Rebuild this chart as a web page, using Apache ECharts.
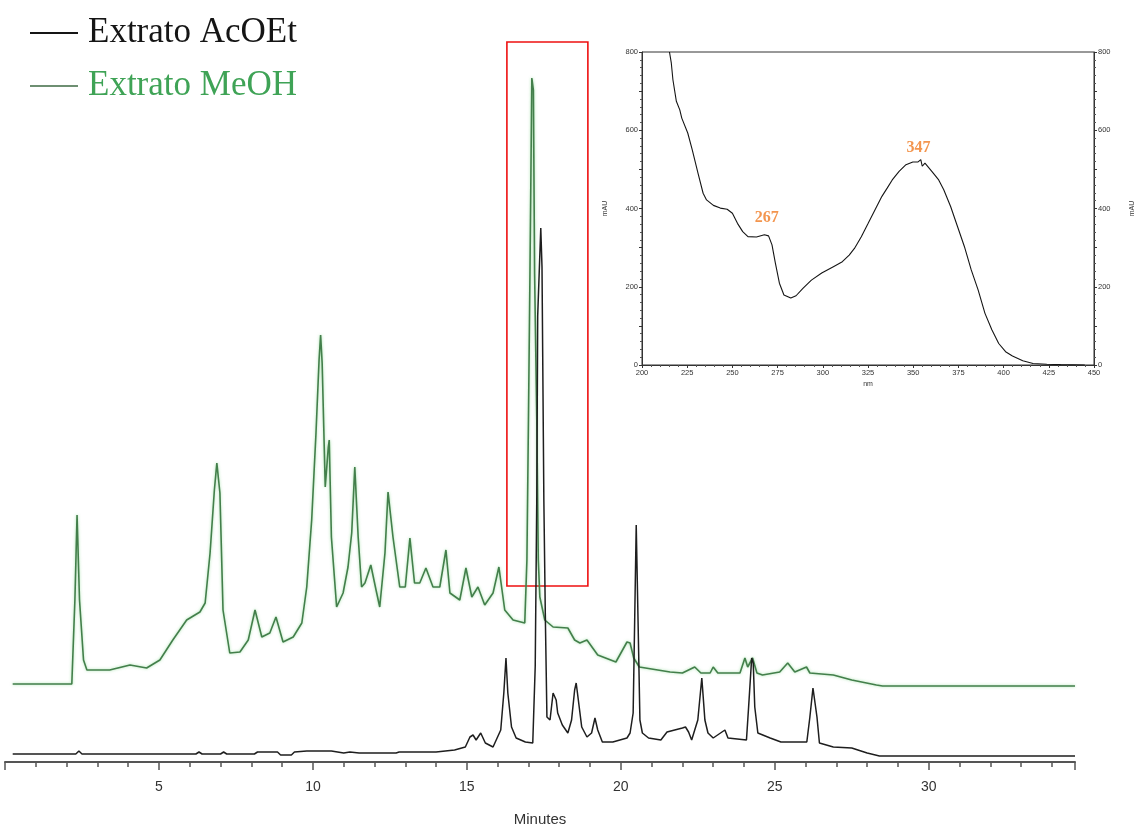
<!DOCTYPE html>
<html>
<head>
<meta charset="utf-8">
<script src="https://cdn.jsdelivr.net/npm/echarts@6/dist/echarts.min.js"></script>
<style>
html,body{margin:0;padding:0;background:#fff;}
#chart{width:1137px;height:829px;}
</style>
</head>
<body>
<div id="chart"></div>
<script>
// ---- Chromatogram: Extrato MeOH (retention time in minutes, detector signal, arbitrary units with offset) ----
const meohMinutes = [0.25,2.17,2.27,2.34,2.42,2.55,2.66,3.4,4.06,4.6,5.03,5.45,5.9,6.33,6.5,6.66,6.8,6.88,6.98,7.08,7.3,7.63,7.9,8.12,8.34,8.6,8.8,9.03,9.36,9.64,9.8,9.96,10.1,10.2,10.25,10.3,10.4,10.5,10.53,10.6,10.77,10.98,11.14,11.26,11.36,11.47,11.58,11.69,11.88,12.05,12.17,12.34,12.44,12.6,12.82,13.0,13.15,13.3,13.47,13.67,13.9,14.12,14.32,14.45,14.77,14.97,15.16,15.36,15.58,15.85,16.04,16.23,16.5,16.88,16.95,17.0,17.05,17.11,17.16,17.2,17.27,17.32,17.37,17.53,17.8,18.28,18.5,18.67,18.9,19.25,19.84,20.2,20.3,20.42,20.6,21.6,22.0,22.4,22.6,22.9,23.0,23.15,23.87,24.03,24.12,24.28,24.42,24.6,25.16,25.42,25.65,26.03,26.14,26.9,27.5,28.3,28.5,34.75];
const meohSignal  = [78,78,162,247,162,102,92,92,97,94,102,122,142,150,159,209,272,299,269,152,109,110,122,152,125,129,145,120,125,139,175,242,329,402,427,399,275,315,322,225,155,169,195,229,295,225,175,179,197,172,155,209,270,225,175,175,224,179,179,194,175,175,212,169,162,194,165,175,157,169,195,152,142,139,202,342,492,684,672,488,342,202,165,142,135,134,122,119,122,107,100,120,119,104,95,90,89,95,89,89,95,89,89,104,95,104,89,87,90,99,90,95,89,87,82,77,76,76];

// ---- Chromatogram: Extrato AcOEt ----
const acoetMinutes = [0.25,2.3,2.4,2.5,6.2,6.3,6.4,7.0,7.1,7.2,8.1,8.2,8.85,8.95,9.3,9.4,9.8,10.6,11.0,11.2,11.5,12.7,12.8,14.0,14.6,14.95,15.1,15.2,15.3,15.45,15.6,15.85,16.1,16.2,16.27,16.33,16.45,16.6,16.9,17.14,17.22,17.27,17.3,17.4,17.44,17.5,17.55,17.6,17.7,17.8,17.9,17.95,18.1,18.28,18.4,18.5,18.55,18.62,18.73,18.9,19.05,19.16,19.25,19.4,19.74,20.2,20.3,20.4,20.45,20.5,20.56,20.62,20.7,20.9,21.3,21.5,22.0,22.1,22.2,22.3,22.5,22.63,22.73,22.83,23.0,23.38,23.48,24.08,24.15,24.25,24.3,24.35,24.45,24.85,25.2,26.04,26.14,26.24,26.37,26.45,26.9,27.5,28.0,28.4,34.75];
const acoetSignal  = [8,8,11,8,8,10,8,8,10,8,8,10,10,7,7,10,11,11,9,10,9,9,10,10,12,15,25,27,22,29,19,15,32,69,104,69,35,24,20,19,96,262,446,534,495,262,142,45,42,69,62,49,37,29,42,72,79,62,35,25,29,44,32,20,20,24,29,49,142,237,140,42,29,24,22,30,34,35,30,22,42,84,42,29,24,32,24,22,55,104,99,55,29,24,20,20,45,74,45,19,15,14,9,6,6];

// ---- Highlight box on the chromatogram (minutes, signal) ----
const highlightMinutes = [16.3, 18.93];
const highlightSignal  = [176, 720];

// ---- Main axis ticks ----
const minuteRange = [0, 34.75];
const minuteLabelStep = 5;

// ---- Inset UV spectrum ----
const uvWavelength = [215.2,216.2,217.1,219,220.9,222,225.3,227.8,231,233.8,235.7,239.5,243.3,247.1,250,252.8,255.7,258.6,263.3,267.7,270,271.9,273.8,276,278.5,282.3,285.2,289,293.7,299.4,306.1,310.8,314.6,317.5,321.3,325.1,328.9,332.7,335.6,338.4,342.2,346,349.8,352.7,354.2,355,356.5,360.3,364.1,366.9,370.7,374.5,378.3,382.1,385.9,389.7,393.5,397.3,401.1,404.9,410.6,416.3,423.9,431.5,444.9];
const uvAbsorbance = [800,772,729,674,652,631,593,550,490,439,422,408,401,398,388,362,341,328,327,333,330,307,260,209,179,171,177,196,217,235,252,264,281,298,328,362,397,431,452,473,495,512,519,519,525,508,516,495,473,448,405,354,303,243,192,132,90,55,34,23,11,4,2,1,0];
const uvPeakLabels = ['267', '347'];
const uvPeakLabelNm = [269, 353];
const uvPeakLabelAbs = [375, 554];

const zip = (a, b) => a.map((v, i) => [v, b[i]]);

const chart = echarts.init(document.getElementById('chart'), null, {renderer: 'canvas'});

const insetAxisText = {fontSize: 7.5, color: '#333', fontFamily: 'Liberation Sans, Arial, sans-serif'};

const option = {
  animation: false,
  backgroundColor: '#ffffff',
  legend: {
    orient: 'vertical',
    left: 30,
    top: 15,
    padding: 0,
    itemWidth: 48,
    itemHeight: 2,
    itemGap: 17,
    icon: 'rect',
    selectedMode: false,
    textStyle: {fontFamily: 'Liberation Serif, Times New Roman, serif', fontSize: 35, lineHeight: 36, padding: [0, 0, 0, 5]},
    data: [
      {name: 'Extrato AcOEt', textStyle: {color: '#151515'}, itemStyle: {color: '#151515'}},
      {name: 'Extrato MeOH', textStyle: {color: '#3fa356'}, itemStyle: {color: '#6e8f72'}}
    ]
  },
  grid: [
    {left: 5, right: 62, top: 40, bottom: 67, outerBoundsMode: 'none', containLabel: false},
    {left: 642, top: 52, width: 452, height: 313, show: true, borderColor: '#333', borderWidth: 1, backgroundColor: 'transparent', outerBoundsMode: 'none', containLabel: false}
  ],
  xAxis: [
    {
      gridIndex: 0, type: 'value', position: 'bottom',
      min: minuteRange[0], max: minuteRange[1], interval: 1,
      axisLine: {show: true, lineStyle: {color: '#555', width: 2}},
      axisTick: {show: true, length: 5, lineStyle: {color: '#555', width: 1.5}},
      axisLabel: {show: false},
      splitLine: {show: false}
    },
    {
      gridIndex: 0, type: 'value', position: 'bottom',
      min: minuteRange[0], max: minuteRange[1], interval: minuteLabelStep,
      axisLine: {show: false},
      axisTick: {show: true, length: 8, lineStyle: {color: '#555', width: 1.5}},
      axisLabel: {
        show: true, margin: 18, fontSize: 14, color: '#333',
        fontFamily: 'Liberation Sans Narrow, Liberation Sans, Arial, sans-serif',
        formatter: v => (v > 0 && v % minuteLabelStep === 0) ? String(v) : ''
      },
      splitLine: {show: false},
      name: 'Minutes', nameLocation: 'middle', nameGap: 50,
      nameTextStyle: {fontSize: 15, color: '#333', fontFamily: 'Liberation Sans Narrow, Liberation Sans, Arial, sans-serif'}
    },
    {
      gridIndex: 1, type: 'value', min: 200, max: 450, interval: 25,
      axisLine: {show: true, onZero: false, lineStyle: {color: '#333', width: 1}},
      axisTick: {show: true, length: 3, lineStyle: {color: '#333'}},
      minorTick: {show: true, splitNumber: 5, length: 2, lineStyle: {color: '#555'}},
      axisLabel: Object.assign({margin: 4}, insetAxisText),
      splitLine: {show: false},
      name: 'nm', nameLocation: 'middle', nameGap: 16,
      nameTextStyle: {fontSize: 7, color: '#333'}
    }
  ],
  yAxis: [
    {gridIndex: 0, type: 'value', min: 0, max: 722, show: false},
    {
      gridIndex: 1, type: 'value', position: 'left', min: 0, max: 800, interval: 100,
      axisLine: {show: true, onZero: false, lineStyle: {color: '#333', width: 1}},
      axisTick: {show: true, length: 3, lineStyle: {color: '#333'}},
      minorTick: {show: true, splitNumber: 5, length: 2, lineStyle: {color: '#555'}},
      axisLabel: Object.assign({margin: 4, formatter: v => (v % 200 === 0 ? String(v) : '')}, insetAxisText),
      splitLine: {show: false},
      name: 'mAU', nameLocation: 'middle', nameGap: 33, nameRotate: 90,
      nameTextStyle: {fontSize: 7, color: '#333'}
    },
    {
      gridIndex: 1, type: 'value', position: 'right', min: 0, max: 800, interval: 100,
      axisLine: {show: true, onZero: false, lineStyle: {color: '#333', width: 1}},
      axisTick: {show: true, length: 3, lineStyle: {color: '#333'}},
      minorTick: {show: true, splitNumber: 5, length: 2, lineStyle: {color: '#555'}},
      axisLabel: Object.assign({margin: 4, formatter: v => (v % 200 === 0 ? String(v) : '')}, insetAxisText),
      splitLine: {show: false},
      name: 'mAU', nameLocation: 'middle', nameGap: 35, nameRotate: 90,
      nameTextStyle: {fontSize: 7, color: '#333'}
    }
  ],
  series: [
    {
      name: 'Extrato MeOH', type: 'line', xAxisIndex: 0, yAxisIndex: 0,
      data: zip(meohMinutes, meohSignal),
      showSymbol: false, symbol: 'none',
      lineStyle: {color: '#437f4b', width: 1.6, shadowBlur: 3, shadowColor: 'rgba(90,200,100,0.55)'},
      itemStyle: {color: '#6e8f72'},
      z: 3
    },
    {
      name: 'Extrato AcOEt', type: 'line', xAxisIndex: 0, yAxisIndex: 0,
      data: zip(acoetMinutes, acoetSignal),
      showSymbol: false, symbol: 'none',
      lineStyle: {color: '#1e1e1e', width: 1.5},
      itemStyle: {color: '#151515'},
      z: 4,
      markArea: {
        silent: true,
        itemStyle: {color: 'rgba(0,0,0,0)', borderColor: '#ee1111', borderWidth: 1.6},
        data: [[{coord: [highlightMinutes[0], highlightSignal[0]]}, {coord: [highlightMinutes[1], highlightSignal[1]]}]]
      }
    },
    {
      name: 'UV', type: 'line', xAxisIndex: 2, yAxisIndex: 1,
      data: zip(uvWavelength, uvAbsorbance),
      showSymbol: false, symbol: 'none',
      lineStyle: {color: '#151515', width: 1.1},
      clip: true, z: 5
    },
    {
      name: 'UV peaks', type: 'scatter', xAxisIndex: 2, yAxisIndex: 1,
      symbolSize: 0,
      data: uvPeakLabels.map((t, i) => ({value: [uvPeakLabelNm[i], uvPeakLabelAbs[i]], label: {formatter: t}})),
      label: {
        show: true, position: 'inside', color: '#f07a22', fontSize: 16, fontWeight: 'bold',
        fontFamily: 'Liberation Serif, Times New Roman, serif'
      },
      silent: true, z: 6
    }
  ]
};

chart.setOption(option);
</script>
</body>
</html>
